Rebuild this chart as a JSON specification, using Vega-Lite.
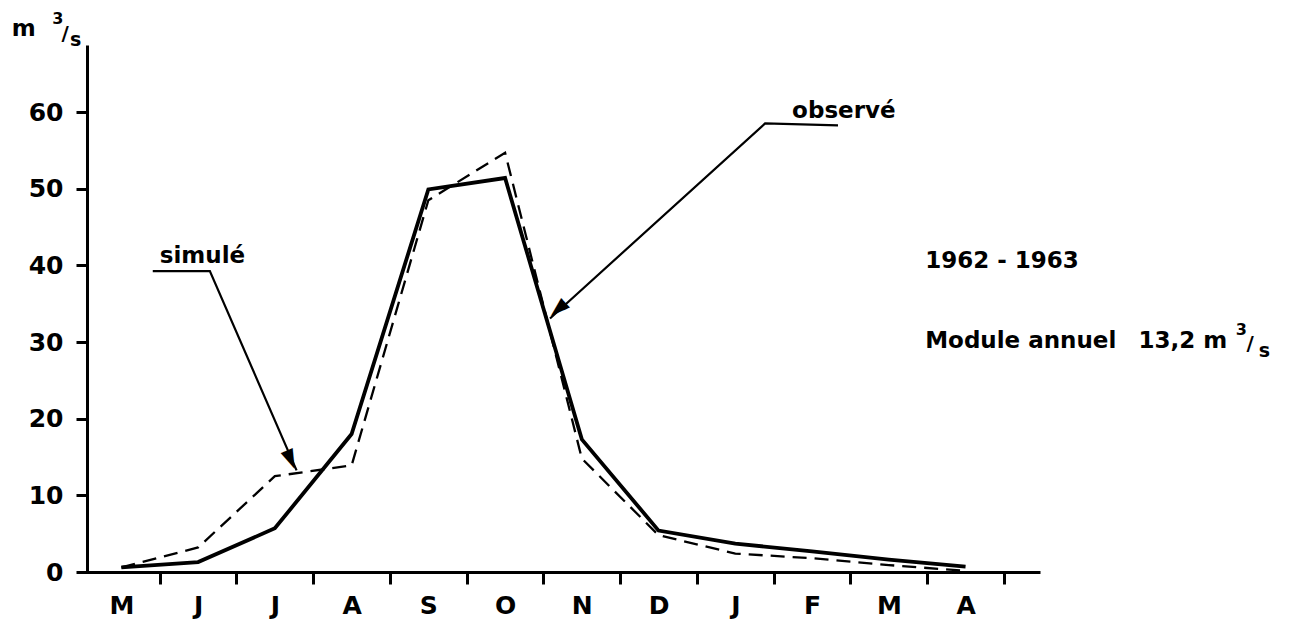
{
  "$schema": "https://vega.github.io/schema/vega-lite/v6.json",
  "width": 957,
  "height": 527,
  "autosize": {"type": "none"},
  "padding": {"left": 83, "top": 45, "right": 250, "bottom": 48},
  "background": "white",
  "config": {
    "view": {"stroke": null},
    "font": "DejaVu Sans",
    "text": {"font": "DejaVu Sans", "fontWeight": "bold", "color": "black", "align": "left", "baseline": "alphabetic"}
  },
  "datasets": {
    "flows": [
      {"x": 0, "serie": "observé", "y": 0.6},
      {"x": 1, "serie": "observé", "y": 1.3},
      {"x": 2, "serie": "observé", "y": 5.7},
      {"x": 3, "serie": "observé", "y": 18.0},
      {"x": 4, "serie": "observé", "y": 49.9},
      {"x": 5, "serie": "observé", "y": 51.4},
      {"x": 6, "serie": "observé", "y": 17.3},
      {"x": 7, "serie": "observé", "y": 5.4},
      {"x": 8, "serie": "observé", "y": 3.7},
      {"x": 9, "serie": "observé", "y": 2.7},
      {"x": 10, "serie": "observé", "y": 1.6},
      {"x": 11, "serie": "observé", "y": 0.7},
      {"x": 0, "serie": "simulé", "y": 0.6},
      {"x": 1, "serie": "simulé", "y": 3.2},
      {"x": 2, "serie": "simulé", "y": 12.5},
      {"x": 3, "serie": "simulé", "y": 13.9},
      {"x": 4, "serie": "simulé", "y": 48.5},
      {"x": 5, "serie": "simulé", "y": 54.7},
      {"x": 6, "serie": "simulé", "y": 14.8},
      {"x": 7, "serie": "simulé", "y": 4.8},
      {"x": 8, "serie": "simulé", "y": 2.4},
      {"x": 9, "serie": "simulé", "y": 1.8},
      {"x": 10, "serie": "simulé", "y": 0.9},
      {"x": 11, "serie": "simulé", "y": 0.15}
    ],
    "annot": [
      {"x": 0.5, "y": 40.26, "label": "simulé"},
      {"x": 8.74, "y": 59.18, "label": "observé"},
      {"x": 10.474, "y": 39.61, "label": "1962 - 1963"},
      {"x": 10.474, "y": 29.18, "label": "Module annuel"},
      {"x": 13.252, "y": 29.18, "label": "13,2 m"},
      {"x": -1.429, "y": 69.87, "label": "m"}
    ],
    "sup": [
      {"x": 14.52, "y": 30.9, "label": "3"},
      {"x": -0.9, "y": 71.5, "label": "3"}
    ],
    "slash": [
      {"x": 14.66, "y": 28.9, "label": "/"},
      {"x": -0.78, "y": 69.35, "label": "/"}
    ],
    "sub": [
      {"x": 14.82, "y": 28.0, "label": "s"},
      {"x": -0.67, "y": 68.57, "label": "s"}
    ],
    "leaders": [
      {"grp": "sim", "ord": 1, "x": 0.409, "y": 39.26},
      {"grp": "sim", "ord": 2, "x": 1.153, "y": 39.26},
      {"grp": "sim", "ord": 3, "x": 2.283, "y": 13.26},
      {"grp": "obs", "ord": 1, "x": 9.338, "y": 58.26},
      {"grp": "obs", "ord": 2, "x": 8.388, "y": 58.52},
      {"grp": "obs", "ord": 3, "x": 5.585, "y": 33.07}
    ]
  },
  "encoding": {
    "x": {
      "field": "x", "type": "quantitative",
      "scale": {"domain": [-0.5, 11.97], "nice": false, "zero": false},
      "axis": {
        "values": [0, 1, 2, 3, 4, 5, 6, 7, 8, 9, 10, 11],
        "labelExpr": "['M','J','J','A','S','O','N','D','J','F','M','A'][datum.value]",
        "title": null, "grid": false,
        "tickOffset": 38.35, "labelOffset": -38.35,
        "tickSize": 12, "tickWidth": 3, "tickColor": "black",
        "domainWidth": 3, "domainColor": "black",
        "labelColor": "black", "labelFont": "DejaVu Sans", "labelFontWeight": "bold",
        "labelFontSize": 25, "labelPadding": 9, "labelFlush": false, "labelOverlap": false
      }
    },
    "y": {
      "field": "y", "type": "quantitative",
      "scale": {"domain": [0, 68.75], "nice": false, "zero": false},
      "axis": {
        "values": [0, 10, 20, 30, 40, 50, 60],
        "title": null, "grid": false, "offset": -4,
        "tickSize": 11, "tickWidth": 3, "tickColor": "black",
        "domainWidth": 3, "domainColor": "black",
        "labelColor": "black", "labelFont": "DejaVu Sans", "labelFontWeight": "bold",
        "labelFontSize": 25, "labelPadding": 13, "labelFlush": false, "labelOverlap": false
      }
    }
  },
  "layer": [
    {
      "data": {"name": "flows"},
      "transform": [{"filter": "datum.serie === 'observé'"}],
      "mark": {"type": "line", "color": "black", "strokeWidth": 3.8, "strokeJoin": "miter"}
    },
    {
      "data": {"name": "flows"},
      "transform": [{"filter": "datum.serie === 'simulé'"}],
      "mark": {"type": "line", "color": "black", "strokeWidth": 2.3, "strokeDash": [14, 8]}
    },
    {
      "data": {"name": "leaders"},
      "mark": {"type": "line", "color": "black", "strokeWidth": 2.2},
      "encoding": {
        "detail": {"field": "grp"},
        "order": {"field": "ord"}
      }
    },
    {
      "data": {"values": [{"x": 2.22, "y": 14.7, "label": "►"}]},
      "mark": {"type": "text", "font": "DejaVu Sans", "fontSize": 26, "fontWeight": "normal", "align": "center", "baseline": "middle", "angle": 66.5, "color": "black"},
      "encoding": {"text": {"field": "label"}}
    },
    {
      "data": {"values": [{"x": 5.701, "y": 34.14, "label": "►"}]},
      "mark": {"type": "text", "font": "DejaVu Sans", "fontSize": 26, "fontWeight": "normal", "align": "center", "baseline": "middle", "angle": 137.8, "color": "black"},
      "encoding": {"text": {"field": "label"}}
    },
    {
      "data": {"name": "annot"},
      "mark": {"type": "text", "fontSize": 23, "fontWeight": "bold", "font": "DejaVu Sans", "align": "left", "baseline": "alphabetic"},
      "encoding": {"text": {"field": "label"}}
    },
    {
      "data": {"name": "sup"},
      "mark": {"type": "text", "fontSize": 16, "fontWeight": "bold", "font": "DejaVu Sans", "align": "left", "baseline": "alphabetic"},
      "encoding": {"text": {"field": "label"}}
    },
    {
      "data": {"name": "slash"},
      "mark": {"type": "text", "fontSize": 20, "fontWeight": "bold", "font": "DejaVu Sans", "align": "left", "baseline": "alphabetic"},
      "encoding": {"text": {"field": "label"}}
    },
    {
      "data": {"name": "sub"},
      "mark": {"type": "text", "fontSize": 19, "fontWeight": "bold", "font": "DejaVu Sans", "align": "left", "baseline": "alphabetic"},
      "encoding": {"text": {"field": "label"}}
    }
  ]
}
